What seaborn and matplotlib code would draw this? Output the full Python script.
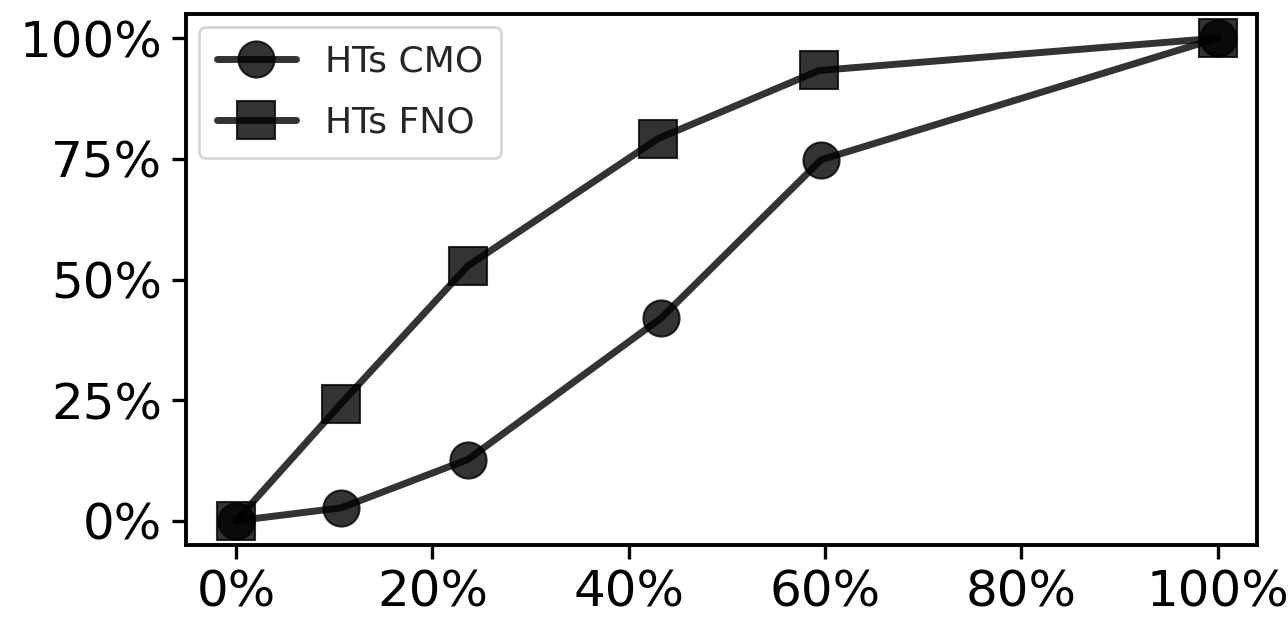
import matplotlib
matplotlib.use("Agg")
import matplotlib.pyplot as plt
import seaborn as sns
import pandas as pd
from matplotlib.ticker import PercentFormatter

# values (percent)
x_cmo = [0, 10.7, 23.6, 43.3, 59.6, 100]
y_cmo = [0, 2.7, 12.7, 42.0, 74.8, 100]
x_fno = [0, 10.7, 23.6, 43.0, 59.4, 100]
y_fno = [0, 24.3, 52.8, 79.2, 93.3, 100]
labels = ["HTs CMO", "HTs FNO"]

sns.set_style("ticks")
plt.rcParams['font.family'] = ['DejaVu Sans']

fig = plt.figure(figsize=(6.44, 3.135), dpi=200)
ax = fig.add_axes([186 / 1288, 1 - 545 / 627, (1257 - 186) / 1288, (545 - 14) / 627])

df_cmo = pd.DataFrame({"x": x_cmo, "y": y_cmo})
df_fno = pd.DataFrame({"x": x_fno, "y": y_fno})

sns.lineplot(data=df_cmo, x="x", y="y", ax=ax, color="black", alpha=0.8,
             marker="o", markersize=13, linewidth=2.5, label=labels[0],
             markeredgecolor="black")
sns.lineplot(data=df_fno, x="x", y="y", ax=ax, color="black", alpha=0.8,
             marker="s", markersize=14, linewidth=2.5, label=labels[1],
             markeredgecolor="black")

ax.set_xlim(-5.1, 104)
ax.set_ylim(-5, 105)
ax.set_xticks([0, 20, 40, 60, 80, 100])
ax.set_yticks([0, 25, 50, 75, 100])
ax.xaxis.set_major_formatter(PercentFormatter(decimals=0))
ax.yaxis.set_major_formatter(PercentFormatter(decimals=0))
ax.set_xlabel("")
ax.set_ylabel("")
ax.tick_params(labelsize=18, length=5, width=1.2, colors="black")
for s in ax.spines.values():
    s.set_linewidth(1.4)
    s.set_color("black")

ax.legend(loc="upper left", fontsize=13, handlelength=2.2, labelspacing=0.75,
          borderaxespad=0.35, borderpad=0.5, framealpha=0.8)

fig.savefig("out.png", dpi=200)
